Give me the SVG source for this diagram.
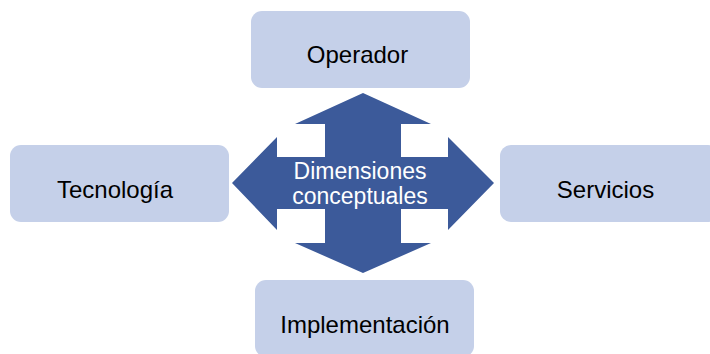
<svg xmlns="http://www.w3.org/2000/svg" width="710" height="354" viewBox="0 0 710 354">
<style>
.box{fill:#C5D0E9;}
.lbl{font-family:"Liberation Sans",Arial,sans-serif;font-size:24px;fill:#000;text-anchor:middle;}
.ctr{font-family:"Liberation Sans",Arial,sans-serif;font-size:23px;fill:#fff;text-anchor:middle;}
</style>
<rect width="710" height="354" fill="#fff"/>
<g id="connectors">
<polygon fill="#3C5A9A" points="363,93 431,124 401,124 401,157 448,157 448,137 494,183 448,230 448,209 401,209 401,243 431,243 363,273 295,243 325,243 325,209 277,209 277,230 232,183 277,137 277,157 325,157 325,124 295,124"/>
</g>
<g id="center">
<text class="ctr" x="360" y="179">Dimensiones</text>
<text class="ctr" x="360" y="204">conceptuales</text>
</g>
<g id="operador">
<rect class="box" x="251" y="11" width="219" height="77" rx="11"/>
<text class="lbl" x="357.5" y="63">Operador</text>
</g>
<g id="tecnologia">
<rect class="box" x="10" y="145" width="219" height="77" rx="11"/>
<text class="lbl" x="115" y="197.5">Tecnología</text>
</g>
<g id="servicios">
<rect class="box" x="500" y="145" width="219" height="77" rx="11"/>
<text class="lbl" x="605.5" y="197.5">Servicios</text>
</g>
<g id="implementacion">
<rect class="box" x="255" y="280" width="219" height="77" rx="11"/>
<text class="lbl" x="365" y="332.5">Implementación</text>
</g>
</svg>
